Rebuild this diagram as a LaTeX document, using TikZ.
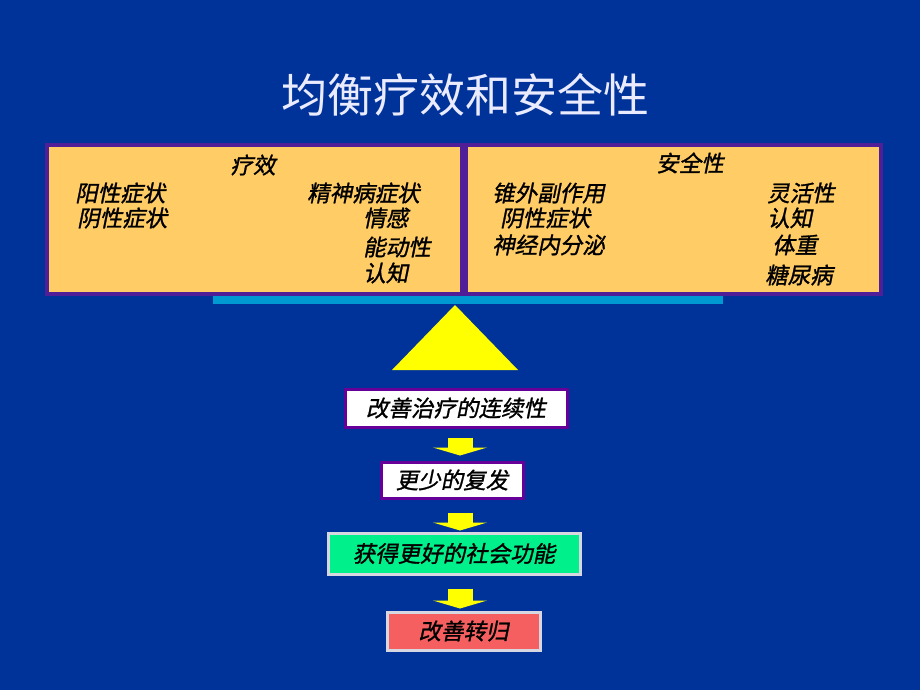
\documentclass[tikz,border=0pt]{standalone}
\usepackage{fontspec}
\newfontfamily\cjk{Noto Sans CJK SC}
\newfontfamily\cjkit[FakeSlant=0.2,FakeBold=1.2]{Noto Sans CJK SC}
\RequirePackage{xcolor}
\definecolor{slideblue}{RGB}{0,51,153}
\definecolor{panelorange}{RGB}{255,204,102}
\definecolor{panelpurple}{RGB}{80,30,150}
\definecolor{beamblue}{RGB}{0,153,210}
\definecolor{pivotyellow}{RGB}{255,255,0}
\definecolor{boxpurple}{RGB}{102,0,153}
\definecolor{boxgreen}{RGB}{0,240,140}
\definecolor{boxred}{RGB}{245,95,95}
\definecolor{boxrim}{RGB}{215,215,225}
\usetikzlibrary{calc}
\usetikzlibrary{positioning}
\usetikzlibrary{arrows.meta}
\tikzset{
  panel/.style={draw=panelpurple, line width=4pt, fill=panelorange, inner sep=0pt},
  item/.style={anchor=west, inner sep=0pt, font=\fontsize{22.5}{24}\cjkit},
  head/.style={inner sep=0pt, font=\fontsize{22.5}{24}\cjkit},
  stage/.style={line width=3pt, inner sep=0pt, font=\fontsize{22.5}{24}\cjkit},
  flow/.style={-{Triangle[length=8pt,width=54pt]}, line width=25pt, pivotyellow}
}

\begin{document}
\begin{tikzpicture}[x=1pt,y=-1pt]

  \fill [slideblue] (0,0) rectangle (920,690);
  \useasboundingbox (0,0) rectangle (920,690);

  % title:
  \node [text=white!92!blue, font=\fontsize{46}{50}\cjk] (title) at (465,95) {均衡疗效和安全性};

  % the two scale pans:
  \node [panel, minimum width=415, minimum height=149] (efficacy) at (254.5,219.5) {};
  \node [panel, minimum width=415, minimum height=149] (safety) at (673.5,219.5) {};

  \node [head] (efftitle) at (253,165) {疗效};
  \node [item] (pos) at (75,193) {阳性症状};
  \node [item] (neg) at (77,218) {阴性症状};
  \node [item] (psy) at (307,193) {精神病症状};
  \node [item] (aff) at (363,218) {情感};
  \node [item] (drv) at (363,247) {能动性};
  \node [item] (cog) at (363,273) {认知};

  \node [head] (saftitle) at (690,163) {安全性};
  \node [item] (eps) at (492,193) {锥外副作用};
  \node [item] (negs) at (500,218) {阴性症状};
  \node [item] (endo) at (492,245) {神经内分泌};
  \node [item] (flex) at (767,193) {灵活性};
  \node [item] (cogs) at (767,218) {认知};
  \node [item] (wt) at (772,245) {体重};
  \node [item] (dm) at (765,275) {糖尿病};

  % beam and pivot:
  \fill [beamblue] (213,296) rectangle (723,304);
  \fill [pivotyellow] (455,305) -- (518,370) -- (392,370) -- cycle;

  % outcome chain:
  \node [stage, draw=boxpurple, fill=white, minimum width=222, minimum height=38] (care) at (456,408) {改善治疗的连续性};
  \node [stage, draw=boxpurple, fill=white, minimum width=142, minimum height=36] (relapse) at (452,480) {更少的复发};
  \node [stage, draw=boxrim, fill=boxgreen, minimum width=252, minimum height=41] (social) at (454,553.5) {获得更好的社会功能};
  \node [stage, draw=boxrim, fill=boxred, minimum width=153, minimum height=38] (outcome) at (463.5,631) {改善转归};

  \draw [flow, shorten <=9pt, shorten >=5pt] (care.south -| 460,0) -- (relapse.north -| 460,0);
  \draw [flow, shorten <=13pt, shorten >=1pt] (relapse.south -| 460,0) -- (social.north -| 460,0);
  \draw [flow, shorten <=13pt, shorten >=2pt] (social.south -| 460,0) -- (outcome.north -| 460,0);

\end{tikzpicture}
\end{document}
